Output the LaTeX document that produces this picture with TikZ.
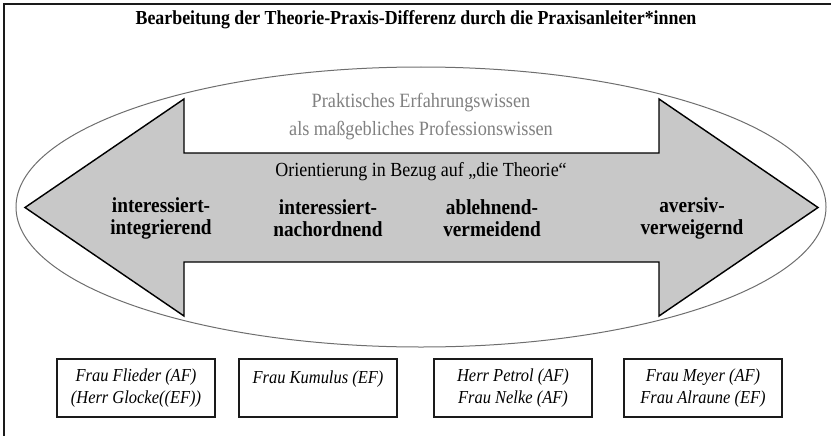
\documentclass[tikz,border=0pt]{standalone}
\usepackage{fontspec}
\setmainfont{Liberation Serif}[FakeStretch=0.9]
\usetikzlibrary{positioning}
\definecolor{tpfill}{HTML}{C8C8C8}
\definecolor{tpring}{HTML}{6E6E6E}
\definecolor{tpgray}{HTML}{808080}
\definecolor{tpink}{HTML}{1A1A1A}
\tikzset{
  frm/.style={draw=tpink, line width=1.1pt},
  ring/.style={draw=tpring, line width=0.7pt},
  arw/.style={draw=black, fill=tpfill, line width=1pt, line join=miter},
  ttl/.style={font=\fontsize{13.9}{16}\selectfont\bfseries},
  prx/.style={align=center, text=tpgray, font=\fontsize{14.2}{19.6}\selectfont},
  ori/.style={font=\fontsize{14}{16}\selectfont},
  typ/.style={align=center, font=\fontsize{15}{15.4}\selectfont\bfseries},
  who/.style={draw=tpink, line width=0.8pt, align=center, minimum width=110.6pt, minimum height=40.6pt, inner sep=2pt, font=\fontsize{12.8}{15.4}\selectfont\itshape},
}

\begin{document}
\begin{tikzpicture}[x=0.7pt, y=-0.7pt]
    \useasboundingbox (0,0) rectangle (831,435);
    \draw[frm] (4,4) rectangle (845,450);
    \node[ttl] (title) at (416,20) {Bearbeitung der Theorie-Praxis-Differenz durch die Praxisanleiter*innen};
    % Ellipse und Doppelpfeil
    \draw[ring] (421,207) ellipse [x radius=405, y radius=140];
    \draw[arw] (25,207.5) -- (184,99) -- (184,153) -- (659,153) -- (659,99) -- (818,207.5)
      -- (659,316) -- (659,262) -- (184,262) -- (184,316) -- cycle;
    \node[prx] (wissen) at (421,117) {Praktisches Erfahrungswissen\\als maßgebliches Professionswissen};
    \node[ori] (orient) at (421,172) {Orientierung in Bezug auf „die Theorie“};
    \foreach \nm/\x/\tx in {t1/161/{interessiert-\\integrierend}, t2/328/{interessiert-\\nachordnend}, t3/492/{ablehnend-\\vermeidend}, t4/692/{aversiv-\\verweigernd}}
      \node[typ] (\nm) at (\x,218) {\tx};
    % Praxisanleiter*innen
    \foreach \nm/\x/\tx in {p1/136/{Frau Flieder (AF)\\(Herr Glocke((EF))}, p2/318/{Frau Kumulus (EF)\\~}, p3/513/{Herr Petrol (AF)\\Frau Nelke (AF)}, p4/703/{Frau Meyer (AF)\\Frau Alraune (EF)}}
      \node[who] (\nm) at (\x,388) {\tx};
  \end{tikzpicture}
\end{document}
